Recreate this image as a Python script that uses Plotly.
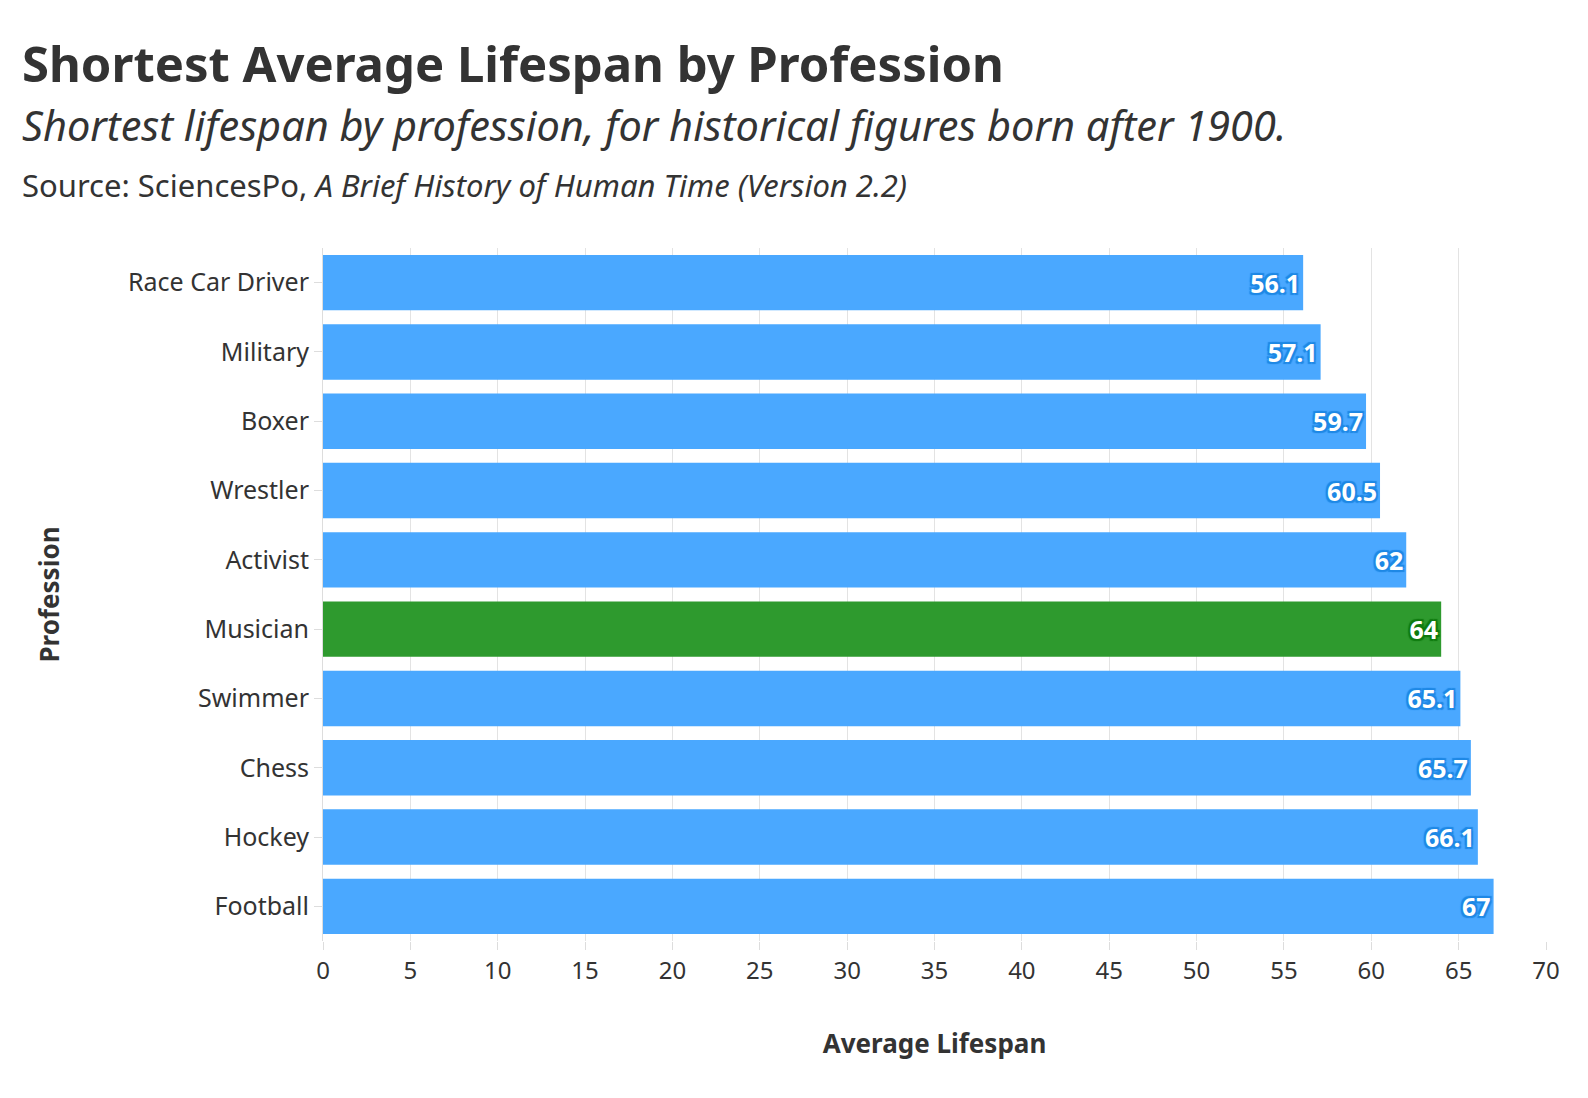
import plotly.graph_objects as go

professions = ["Race Car Driver", "Military", "Boxer", "Wrestler", "Activist",
               "Musician", "Swimmer", "Chess", "Hockey", "Football"]
lifespans = [56.1, 57.1, 59.7, 60.5, 62, 64, 65.1, 65.7, 66.1, 67]
highlight = "Musician"

colors = ["#2e9a2e" if p == highlight else "#4aa8ff" for p in professions]
shadow_col = ["#0f7a0f" if p == highlight else "#1e88e5" for p in professions]

FONT = "Source Sans Pro, Noto Sans"
fig = go.Figure()
for p, v, c, s in zip(professions, lifespans, colors, shadow_col):
    fig.add_trace(go.Bar(
        y=[p], x=[v], orientation="h", marker=dict(color=c, line=dict(width=0)),
        text=[f"{v:g}"], textposition="inside", insidetextanchor="end",
        textfont=dict(family=FONT, size=25, color="white", weight="bold",
                      shadow=f"2px 2px 1px {s}, -2px -2px 1px {s}, 2px -2px 1px {s}, -2px 2px 1px {s}"),
        showlegend=False, cliponaxis=False))

W0, W1, T, B = 315, 1538, 240, 165
H = 1098 - T - B
def py(px): return (1098 - B - px) / H
def pxx(px): return (px - W0) / (W1 - W0)

fig.update_layout(
    width=1588, height=1098, barmode="overlay", bargap=0.2,
    plot_bgcolor="white", paper_bgcolor="white",
    font=dict(family=FONT, color="#333", size=24),
    margin=dict(l=W0, r=1588 - W1, t=T, b=B),
    annotations=[
        dict(text="<b>Shortest Average Lifespan by Profession</b>", x=pxx(12), y=py(55),
             font=dict(size=49, color="#333")),
        dict(text="<i>Shortest lifespan by profession, for historical figures born after 1900.</i>",
             x=pxx(12), y=py(117), font=dict(size=41.5, color="#333")),
        dict(text="Source: SciencesPo, <i>A Brief History of Human Time (Version 2.2)</i>",
             x=pxx(12), y=py(177), font=dict(size=31, color="#333")),
    ],
    xaxis=dict(range=[0, 70], dtick=5, showgrid=True, gridcolor="#e3e3e3", zeroline=False,
               ticks="outside", ticklen=8, tickcolor="#ddd", tickfont=dict(size=24),
               title=dict(text="<b>Average Lifespan</b>", font=dict(size=26), standoff=50)),
    yaxis=dict(categoryorder="array", categoryarray=professions[::-1],
               ticks="outside", ticklen=8, tickcolor="#ddd", tickfont=dict(size=25),
               showline=True, linecolor="#ddd",
               title=dict(text="<b>Profession</b>", font=dict(size=26), standoff=60)),
)
for a in fig.layout.annotations:
    a.update(xref="paper", yref="paper", xanchor="left", yanchor="middle", showarrow=False)
fig.write_html("out.html")
